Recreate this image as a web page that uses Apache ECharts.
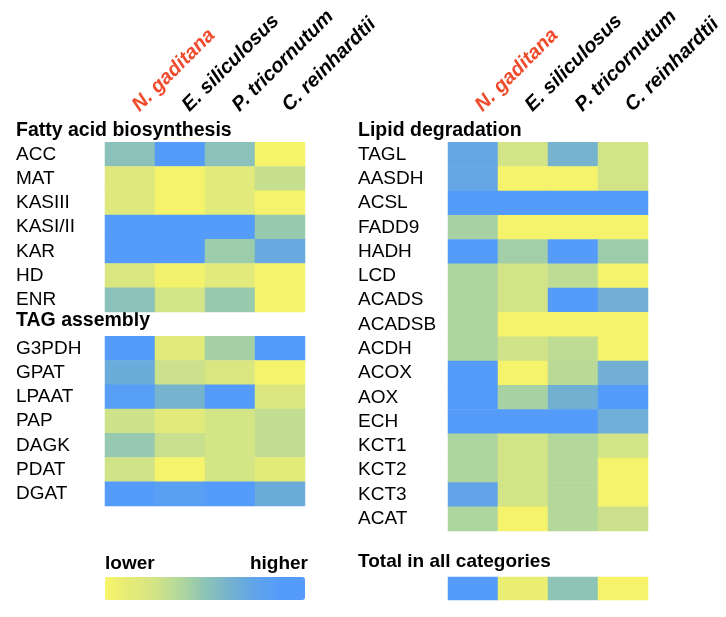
<!DOCTYPE html>
<html>
<head>
<meta charset="utf-8">
<script src="https://cdn.jsdelivr.net/npm/echarts@6/dist/echarts.min.js"></script>
<style>html,body{margin:0;padding:0;background:#fff}#c{width:726px;height:617px}</style>
</head>
<body>
<div id="c"></div>
<script>
// ---------- data ----------
const species = ['N. gaditana', 'E. siliculosus', 'P. tricornutum', 'C. reinhardtii'];

const fattyAcidHeader = 'Fatty acid biosynthesis';
const fattyAcidGenes = ['ACC', 'MAT', 'KASIII', 'KASI/II', 'KAR', 'HD', 'ENR'];
const fattyAcidValues = [
  [0.52, 1.00, 0.52, 0.00],
  [0.17, 0.02, 0.15, 0.30],
  [0.17, 0.02, 0.15, 0.02],
  [1.00, 1.00, 1.00, 0.46],
  [1.00, 1.00, 0.45, 0.70],
  [0.20, 0.03, 0.15, 0.02],
  [0.52, 0.25, 0.46, 0.02]
];

const tagHeader = 'TAG assembly';
const tagGenes = ['G3PDH', 'GPAT', 'LPAAT', 'PAP', 'DAGK', 'PDAT', 'DGAT'];
const tagValues = [
  [1.00, 0.15, 0.42, 1.00],
  [0.68, 0.28, 0.20, 0.02],
  [0.85, 0.62, 1.00, 0.20],
  [0.27, 0.15, 0.24, 0.31],
  [0.47, 0.29, 0.24, 0.31],
  [0.26, 0.02, 0.24, 0.13],
  [0.90, 0.82, 0.88, 0.68]
];

const degradationHeader = 'Lipid degradation';
const degradationGenes = ['TAGL', 'AASDH', 'ACSL', 'FADD9', 'HADH', 'LCD', 'ACADS', 'ACADSB',
  'ACDH', 'ACOX', 'AOX', 'ECH', 'KCT1', 'KCT2', 'KCT3', 'ACAT'];
const degradationValues = [
  [0.72, 0.25, 0.62, 0.25],
  [0.72, 0.02, 0.02, 0.25],
  [1.00, 1.00, 1.00, 1.00],
  [0.41, 0.02, 0.02, 0.02],
  [0.95, 0.43, 1.00, 0.45],
  [0.39, 0.25, 0.33, 0.02],
  [0.39, 0.25, 1.00, 0.65],
  [0.39, 0.02, 0.02, 0.02],
  [0.39, 0.26, 0.33, 0.02],
  [1.00, 0.02, 0.35, 0.65],
  [1.00, 0.41, 0.64, 1.00],
  [1.00, 1.00, 1.00, 0.66],
  [0.39, 0.25, 0.37, 0.25],
  [0.39, 0.25, 0.37, 0.02],
  [0.74, 0.25, 0.37, 0.02],
  [0.39, 0.02, 0.37, 0.28]
];

const totalHeader = 'Total in all categories';
const totalValues = [1.00, 0.09, 0.50, 0.01];

const legendLow = 'lower';
const legendHigh = 'higher';

// ---------- build ----------
const FONT = '"Liberation Sans", Arial, Helvetica, sans-serif';
const headers = [fattyAcidHeader, tagHeader, degradationHeader];

const leftRows = [fattyAcidHeader].concat(fattyAcidGenes, [tagHeader], tagGenes);
const rightRows = [degradationHeader].concat(degradationGenes);

function cells(values, rowOffset) {
  const out = [];
  values.forEach((row, r) => row.forEach((v, c) => out.push([c, r + rowOffset, v])));
  return out;
}
const leftData = cells(fattyAcidValues, 1).concat(cells(tagValues, 2 + fattyAcidGenes.length));
const rightData = cells(degradationValues, 1);
const totalData = totalValues.map((v, c) => [c, 0, v]);

function yLabelFormatter(v) {
  if (v === tagHeader) return '{t|' + v + '}';
  if (headers.indexOf(v) >= 0) return '{b|' + v + '}';
  return v;
}
const richHead = {
  b: { fontFamily: FONT, fontSize: 19.5, fontWeight: 'bold', color: '#000' },
  t: { fontFamily: FONT, fontSize: 19.5, fontWeight: 'bold', color: '#000', padding: [0, 0, 7, 0] }
};

function xAxisTop(gridIndex) {
  return {
    type: 'category', gridIndex, data: species, position: 'top',
    axisLine: { show: false }, axisTick: { show: false }, splitLine: { show: false },
    axisLabel: {
      interval: 0, rotate: -45, margin: 4, padding: [0, 0, 0, 8],
      fontFamily: FONT, fontSize: 20, fontWeight: 'bold', fontStyle: 'italic',
      color: (v) => v === 'N. gaditana' ? '#EF4B2C' : '#000'
    }
  };
}
function yAxisRows(gridIndex, rows, margin) {
  return {
    type: 'category', gridIndex, data: rows, inverse: true,
    axisLine: { show: false }, axisTick: { show: false }, splitLine: { show: false },
    axisLabel: {
      interval: 0, align: 'left', margin,
      fontFamily: FONT, fontSize: 19, color: '#000',
      formatter: yLabelFormatter, rich: richHead
    }
  };
}
const heatStyle = { itemStyle: { borderWidth: 0 }, emphasis: { disabled: true }, silent: true };

const titleStyle = { fontFamily: FONT, fontSize: 19, fontWeight: 'bold', color: '#000' };

const option = {
  backgroundColor: '#fff',
  animation: false,
  title: [
    { text: legendLow, left: 105, top: 554, padding: 0, textStyle: titleStyle },
    { text: legendHigh, right: 418, top: 554, padding: 0, textStyle: titleStyle },
    { text: totalHeader, left: 358, top: 552, padding: 0, textStyle: titleStyle }
  ],
  grid: [
    { left: 105, top: 118, width: 200, height: 388 },
    { left: 448, top: 118, width: 200, height: 413 },
    { left: 448, top: 577, width: 200, height: 23 }
  ],
  xAxis: [
    xAxisTop(0),
    xAxisTop(1),
    { type: 'category', gridIndex: 2, data: species, show: false }
  ],
  yAxis: [
    yAxisRows(0, leftRows, 89),
    yAxisRows(1, rightRows, 90),
    { type: 'category', gridIndex: 2, data: [totalHeader], show: false }
  ],
  visualMap: {
    type: 'continuous', min: 0, max: 1, orient: 'horizontal',
    left: 105, top: 577, itemWidth: 23, itemHeight: 200, padding: 0,
    text: null, showLabel: false, calculable: false, hoverLink: false,
    seriesIndex: [0, 1, 2],
    inRange: {
      color: ['#F8F46A', '#E4EB77', '#D3E486', '#B2D79B', '#8EC4B6', '#75B2CF', '#5FA4EA', '#559CFA', '#559CFA']
    }
  },
  series: [
    Object.assign({ type: 'heatmap', xAxisIndex: 0, yAxisIndex: 0, data: leftData }, heatStyle),
    Object.assign({ type: 'heatmap', xAxisIndex: 1, yAxisIndex: 1, data: rightData }, heatStyle),
    Object.assign({ type: 'heatmap', xAxisIndex: 2, yAxisIndex: 2, data: totalData }, heatStyle)
  ]
};

const chart = echarts.init(document.getElementById('c'), null, { renderer: 'canvas' });
chart.setOption(option);
</script>
</body>
</html>
